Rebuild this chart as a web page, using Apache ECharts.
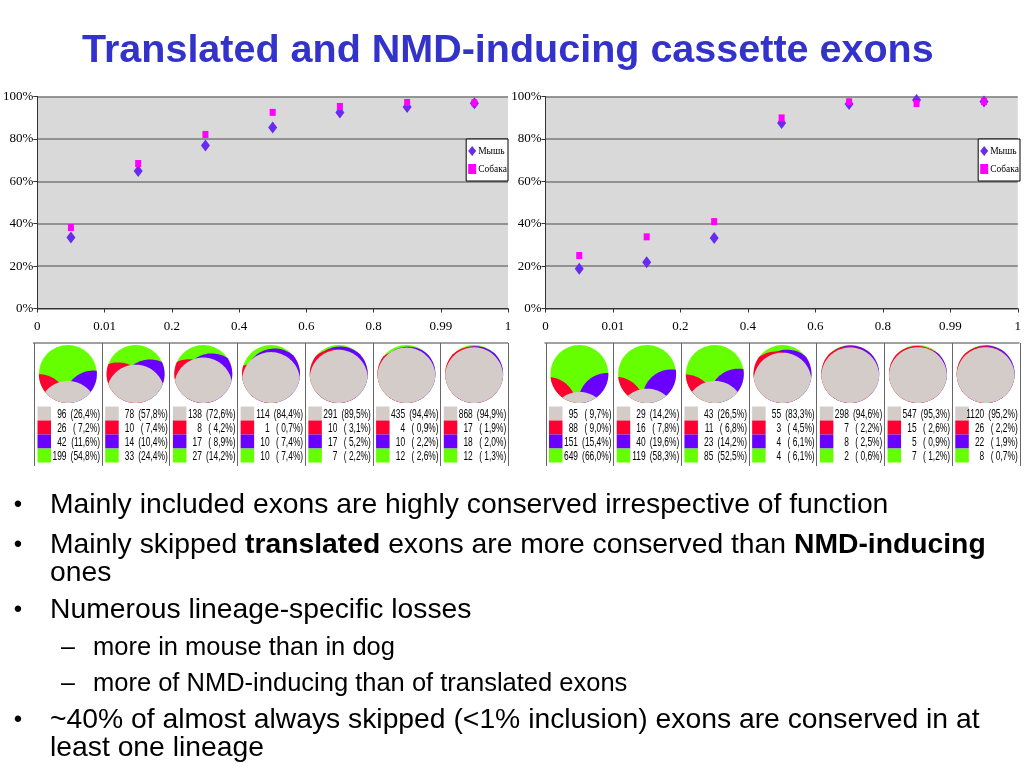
<!DOCTYPE html>
<html><head><meta charset="utf-8">
<script src="https://cdn.jsdelivr.net/npm/echarts@6/dist/echarts.min.js"></script>
<style>html,body{margin:0;padding:0;background:#fff}#c{width:1024px;height:768px}</style>
</head><body><div id="c"></div>
<script>
// ---------- data ----------
const titleText = 'Translated and NMD-inducing cassette exons';
const xTickLabels = ['0', '0.01', '0.2', '0.4', '0.6', '0.8', '0.99', '1'];
const seriesNames = ['Мышь', 'Собака'];
const leftMouse  = [33.5, 64.9, 76.9, 85.4, 92.5, 95.1, 96.8];
const leftDog    = [38.2, 68.4, 82.1, 92.5, 95.3, 97.2, 97.0];
const rightMouse = [18.7, 21.8, 33.2, 87.5, 96.5, 98.3, 97.6];
const rightDog   = [25.0, 33.8, 41.0, 89.9, 97.5, 96.7, 97.6];
// per bin: [gray, red, blue, green]
const leftCounts = [[96,26,42,199],[78,10,14,33],[138,8,17,27],[114,1,10,10],[291,10,17,7],[435,4,10,12],[868,17,18,12]];
const leftPcts   = [[26.4,7.2,11.6,54.8],[57.8,7.4,10.4,24.4],[72.6,4.2,8.9,14.2],[84.4,0.7,7.4,7.4],[89.5,3.1,5.2,2.2],[94.4,0.9,2.2,2.6],[94.9,1.9,2.0,1.3]];
const rightCounts = [[95,88,151,649],[29,16,40,119],[43,11,23,85],[55,3,4,4],[298,7,8,2],[547,15,5,7],[1120,26,22,8]];
const rightPcts   = [[9.7,9.0,15.4,66.0],[14.2,7.8,19.6,58.3],[26.5,6.8,14.2,52.5],[83.3,4.5,6.1,6.1],[94.6,2.2,2.5,0.6],[95.3,2.6,0.9,1.2],[95.2,2.2,1.9,0.7]];
const bullets = [
  {lvl: 0, y: 505, text: '{n|Mainly included exons are highly conserved irrespective of function}'},
  {lvl: 0, y: 545, text: '{n|Mainly skipped }{b|translated}{n| exons are more conserved than }{b|NMD-inducing}'},
  {lvl: -1, y: 573, text: '{n|ones}'},
  {lvl: 0, y: 610, text: '{n|Numerous lineage-specific losses}'},
  {lvl: 1, y: 648, text: '{s|more in mouse than in dog}'},
  {lvl: 1, y: 684, text: '{s|more of NMD-inducing than of translated exons}'},
  {lvl: 0, y: 720, text: '{n|~40% of almost always skipped (<1% inclusion) exons are conserved in at}'},
  {lvl: -1, y: 748, text: '{n|least one lineage}'}
];

// ---------- style / layout ----------
const sliceColors = ['#D3CCC8', '#FF0033', '#6A00FF', '#66FF00']; // gray, red, blue, green
const mouseColor = '#6A2BF0', dogColor = '#FF00FF';
const grids = [
  {left: 34, top: 96.5, width: 474, height: 212},
  {left: 545.5, top: 96.5, width: 474, height: 212}
];
const pieCY = 374, pieR = 29, tableTop = 343, tableBottom = 466;
const rowTop = 406.5, rowH = 14;
const dirGray = Math.PI / 2, dirRed = 3 * Math.PI / 4, dirBlue = Math.PI / 4; // screen angles (y down)

const chart = echarts.init(document.getElementById('c'));

function xAxisOf(i) {
  return {
    type: 'value', gridIndex: i, min: 0, max: 7, interval: 1,
    axisLine: {show: true, onZero: false, lineStyle: {color: '#333', width: 1}},
    axisTick: {show: true, length: 4, lineStyle: {color: '#333'}},
    splitLine: {show: false},
    axisLabel: {formatter: v => xTickLabels[v], fontFamily: 'Liberation Serif', fontSize: 13, color: '#000', margin: 12}
  };
}
function yAxisOf(i) {
  return {
    type: 'value', gridIndex: i, min: 0, max: 100, interval: 20,
    axisLine: {show: true, lineStyle: {color: '#333', width: 1}},
    axisTick: {show: true, length: 4, lineStyle: {color: '#333'}},
    splitLine: {show: true, lineStyle: {color: '#7A7A7A', width: 1.5}},
    axisLabel: {formatter: '{value}%', fontFamily: 'Liberation Serif', fontSize: 13, color: '#000', margin: 4}
  };
}
function scatter(name, vals, gi, sym, size, color, z) {
  return {
    type: 'scatter', name, xAxisIndex: gi, yAxisIndex: gi, symbol: sym, symbolSize: size, z,
    itemStyle: {color, opacity: 1}, silent: true,
    data: vals.map((v, k) => [k + 0.5, v])
  };
}

// ---------- geometry of the "shifted circle" pies ----------
// sample points of the unit disc
const disc = [];
for (let y = -1; y <= 1; y += 0.012) for (let x = -1; x <= 1; x += 0.012) if (x * x + y * y <= 1) disc.push([x, y]);
const inLens = (p, phi, u) => { const dx = p[0] - u * Math.cos(phi), dy = p[1] - u * Math.sin(phi); return dx * dx + dy * dy <= 1; };
// find offset u so that the area of (lens minus covered) equals frac of the disc
function solveU(phi, frac, covered) {
  if (frac <= 0) return 2;
  let lo = 0, hi = 2;
  for (let it = 0; it < 26; it++) {
    const m = (lo + hi) / 2;
    let n = 0;
    for (let i = 0; i < disc.length; i++) if (!covered[i] && inLens(disc[i], phi, m)) n++;
    if (n / disc.length > frac) lo = m; else hi = m;
  }
  return Math.max((lo + hi) / 2, 0.0006);
}
function pieGeometry(cnt) {
  const tot = cnt.reduce((a, b) => a + b, 0);
  const none = new Array(disc.length).fill(false);
  const ug = solveU(dirGray, cnt[0] / tot, none);
  const cov1 = disc.map(p => inLens(p, dirGray, ug));
  const ur = solveU(dirRed, cnt[1] / tot, cov1);
  const cov2 = disc.map((p, i) => cov1[i] || inLens(p, dirRed, ur));
  const ub = solveU(dirBlue, cnt[2] / tot, cov2);
  return [ug, ur, ub];
}
function lensPoints(cx, cy, R, phi, u) {
  const d = u * R, beta = Math.acos(Math.min(1, u / 2));
  const ccx = cx + d * Math.cos(phi), ccy = cy + d * Math.sin(phi);
  const pts = [], N = 48;
  for (let i = 0; i <= N; i++) { const a = phi - beta + 2 * beta * i / N; pts.push([cx + R * Math.cos(a), cy + R * Math.sin(a)]); }
  for (let i = 0; i <= N; i++) { const a = phi + Math.PI - beta + 2 * beta * i / N; pts.push([ccx + R * Math.cos(a), ccy + R * Math.sin(a)]); }
  return pts;
}

const pieData = [];
[leftCounts, rightCounts].forEach((counts, t) => counts.forEach((cnt, c) => pieData.push([t, c].concat(cnt))));
const pieGeo = pieData.map(d => pieGeometry(d.slice(2)));

const series = [
  scatter(seriesNames[0], leftMouse, 0, 'diamond', [9, 12], mouseColor, 3),
  scatter(seriesNames[1], leftDog, 0, 'rect', [6, 7], dogColor, 4),
  scatter(seriesNames[0], rightMouse, 1, 'diamond', [9, 12], mouseColor, 3),
  scatter(seriesNames[1], rightDog, 1, 'rect', [6, 7], dogColor, 4),
  {
    type: 'custom', coordinateSystem: 'none', silent: true, data: pieData, z: 5,
    renderItem: (params, api) => {
      const t = api.value(0), c = api.value(1);
      const g = grids[t];
      const cx = g.left + (c + 0.5) * g.width / 7, cy = pieCY, R = pieR;
      const [ug, ur, ub] = pieGeo[params.dataIndex];
      const kids = [{type: 'circle', shape: {cx, cy, r: R}, style: {fill: sliceColors[3]}}];
      [[2, dirBlue, ub], [1, dirRed, ur], [0, dirGray, ug]].forEach(([ci, phi, u]) => {
        if (u >= 2) return;
        kids.push({type: 'polygon', shape: {points: lensPoints(cx, cy, R, phi, u)}, style: {fill: sliceColors[ci]}});
      });
      return {type: 'group', children: kids};
    }
  }
];

const graphics = [];
const tables = [[leftCounts, leftPcts], [rightCounts, rightPcts]];
const cellFont = '12px "Liberation Sans", Arial';
tables.forEach(([counts, pcts], gi) => {
  const g = grids[gi];
  const cw = g.width / 7;
  graphics.push({type: 'line', shape: {x1: g.left - 1, y1: tableTop, x2: g.left + g.width, y2: tableTop}, style: {stroke: '#444', lineWidth: 1}});
  for (let k = 0; k <= 7; k++) {
    const x = Math.round(g.left + k * cw) + 0.5;
    graphics.push({type: 'line', shape: {x1: x, y1: tableTop, x2: x, y2: tableBottom}, style: {stroke: '#666', lineWidth: 1}});
  }
  counts.forEach((cnt, c) => {
    const colLeft = g.left + c * cw;
    cnt.forEach((v, r) => {
      const y = rowTop + r * rowH;
      graphics.push({type: 'rect', shape: {x: colLeft + 3.5, y: y, width: 13.5, height: rowH}, style: {fill: sliceColors[r]}});
      const p = pcts[c][r];
      const ps = (p < 10 ? '( ' : '(') + p.toFixed(1).replace('.', ',') + '%)';
      graphics.push({type: 'text', x: colLeft + 32.5, y: y + rowH / 2 + 0.5, scaleX: 0.7, scaleY: 1.12,
        style: {text: String(v), x: 0, y: 0, font: cellFont, fill: '#000', textAlign: 'right', textVerticalAlign: 'middle', verticalAlign: 'middle'}});
      graphics.push({type: 'text', x: colLeft + 66, y: y + rowH / 2 + 0.5, scaleX: 0.7, scaleY: 1.12,
        style: {text: ps, x: 0, y: 0, font: cellFont, fill: '#000', textAlign: 'right', textVerticalAlign: 'middle', verticalAlign: 'middle'}});
    });
  });
});

// bullets
const rich = {
  n: {fontFamily: 'Liberation Sans', fontSize: 28.3, color: '#000'},
  b: {fontFamily: 'Liberation Sans', fontSize: 28.3, fontWeight: 'bold', color: '#000'},
  s: {fontFamily: 'Liberation Sans', fontSize: 25.5, color: '#000'}
};
bullets.forEach(b => {
  if (b.lvl === 0) {
    graphics.push({type: 'text', x: 18, y: b.y, style: {text: '•', x: 0, y: 0, font: '24px "Liberation Sans"', fill: '#000', textAlign: 'center', textVerticalAlign: 'middle', verticalAlign: 'middle'}});
  } else if (b.lvl === 1) {
    graphics.push({type: 'text', x: 68, y: b.y, style: {text: '–', x: 0, y: 0, font: '25px "Liberation Sans"', fill: '#000', textAlign: 'center', textVerticalAlign: 'middle', verticalAlign: 'middle'}});
  }
  graphics.push({type: 'text', x: b.lvl === 1 ? 93 : 50, y: b.y,
    style: {text: b.text, rich, x: 0, y: 0, textAlign: 'left', textVerticalAlign: 'middle', verticalAlign: 'middle'}});
});

const legendBase = {
  orient: 'vertical', backgroundColor: '#fff', borderColor: '#000', borderWidth: 1,
  padding: [7, 1, 7, 2], itemWidth: 8, itemHeight: 10, itemGap: 8,
  textStyle: {fontFamily: 'Liberation Serif', fontSize: 9.5, color: '#000', padding: [0, 0, 0, -3]},
  data: [{name: seriesNames[0], icon: 'diamond'}, {name: seriesNames[1], icon: 'rect'}],
  selectedMode: false
};

chart.setOption({
  animation: false,
  backgroundColor: '#fff',
  title: {text: titleText, left: 77, top: 26,
    textStyle: {fontFamily: 'Liberation Sans', fontSize: 39.5, fontWeight: 'bold', color: '#3333CC'}},
  legend: [
    Object.assign({}, legendBase, {right: 1024 - 508, top: 139}),
    Object.assign({}, legendBase, {right: 4, top: 139})
  ],
  grid: grids.map(g => Object.assign({show: true, backgroundColor: '#D9D9D9', borderWidth: 0}, g)),
  xAxis: [xAxisOf(0), xAxisOf(1)],
  yAxis: [yAxisOf(0), yAxisOf(1)],
  series,
  graphic: {elements: graphics}
});
</script>
</body></html>
